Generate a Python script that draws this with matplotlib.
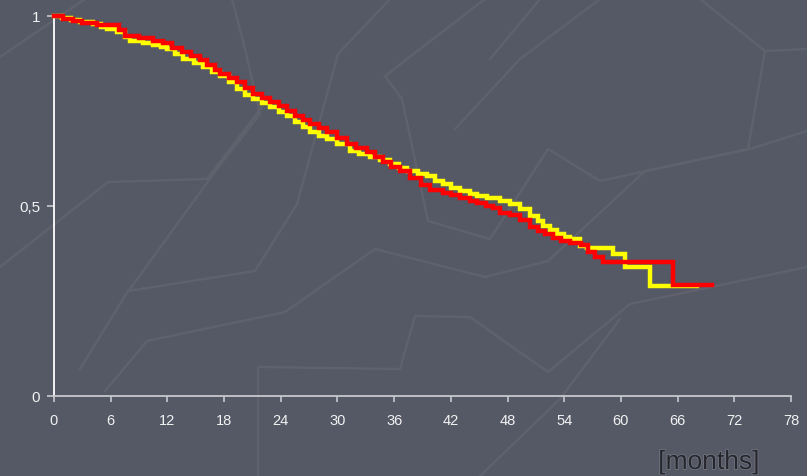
import matplotlib.pyplot as plt
from matplotlib.lines import Line2D
import matplotlib.patheffects as pe

# Kaplan-Meier style survival estimates (months, proportion surviving)
yellow_t = [0, 0.8, 1.8, 2.8, 4.1, 5.0, 5.6, 6.7, 7.5, 8.0, 9.4, 10.5, 11.3, 12.0, 12.8,
            13.7, 14.8, 15.8, 16.7, 17.6, 18.5, 19.4, 20.2, 21.1, 22.0, 22.9, 23.8, 24.7,
            25.5, 26.3, 27.1, 28.0, 28.9, 30.0, 31.3, 32.3, 33.4, 34.5, 35.6, 36.5, 37.4,
            38.5, 39.5, 40.3, 41.2, 42.0, 43.0, 44.0, 44.8, 45.8, 47.2, 48.3, 49.3, 50.4,
            51.2, 51.8, 52.5, 53.2, 54.0, 54.6, 55.7, 56.4, 59.2, 60.4, 63.1, 68.0]
yellow_s = [1.0, 0.995, 0.99, 0.985, 0.978, 0.97, 0.965, 0.957, 0.945, 0.935, 0.93, 0.925,
            0.918, 0.912, 0.9, 0.887, 0.877, 0.866, 0.853, 0.842, 0.826, 0.808, 0.793, 0.782,
            0.771, 0.761, 0.748, 0.737, 0.72, 0.707, 0.695, 0.685, 0.676, 0.662, 0.645, 0.637,
            0.629, 0.62, 0.611, 0.6, 0.592, 0.585, 0.579, 0.567, 0.558, 0.548, 0.539, 0.532,
            0.526, 0.52, 0.513, 0.505, 0.492, 0.474, 0.461, 0.447, 0.437, 0.426, 0.419, 0.413,
            0.395, 0.389, 0.374, 0.339, 0.289, 0.289]

red_t = [0, 1, 2, 3, 4.5, 6.9, 7.5, 9, 10.5, 11.5, 12.5, 13.5, 14.5, 15.5, 16.2, 17, 17.6,
         18.5, 19.4, 20.2, 21.1, 22, 22.9, 23.8, 24.7, 25.5, 26.3, 27.1, 28, 28.9, 30, 31, 32,
         33.1, 34, 34.8, 35.7, 36.6, 37.7, 38.8, 39.8, 41.2, 42, 43, 44, 44.8, 45.7, 46.5,
         47.2, 48.3, 49.3, 50.4, 51.2, 52, 52.8, 53.7, 54.6, 55.8, 56.5, 57.3, 58.1, 65.5, 69.6]
red_s = [1.0, 0.993, 0.987, 0.982, 0.977, 0.962, 0.948, 0.943, 0.935, 0.928, 0.915, 0.905,
         0.895, 0.884, 0.872, 0.858, 0.847, 0.837, 0.826, 0.81, 0.795, 0.785, 0.774, 0.762,
         0.75, 0.738, 0.727, 0.716, 0.705, 0.695, 0.679, 0.663, 0.653, 0.642, 0.628, 0.616,
         0.603, 0.592, 0.575, 0.556, 0.542, 0.534, 0.528, 0.521, 0.514, 0.508, 0.501, 0.494,
         0.482, 0.476, 0.464, 0.446, 0.435, 0.426, 0.417, 0.409, 0.403, 0.398, 0.38, 0.366,
         0.353, 0.292, 0.292]

x_ticks = list(range(0, 79, 6))
y_ticks = [0, 0.5, 1]
y_ticklabels = ['0', '0,5', '1']

BG = '#555865'

# faint decorative strokes of the slide background (figure pixels, y down)
deco = [
    [(0, 58), (85, 0)],
    [(0, 268), (108, 183), (207, 180), (262, 108)],
    [(232, 0), (245, 50), (260, 115), (217, 170), (130, 290)],
    [(80, 370), (128, 292), (255, 272), (297, 205), (338, 55), (390, 0)],
    [(105, 392), (147, 342), (285, 313), (375, 250), (485, 278), (548, 262), (645, 172),
     (750, 150), (807, 132)],
    [(258, 477), (258, 368), (400, 370), (415, 317), (470, 318), (548, 373), (630, 305),
     (807, 268)],
    [(385, 77), (485, 0)],
    [(385, 77), (402, 100), (428, 222), (490, 240), (548, 150), (600, 182), (748, 150),
     (765, 52), (807, 50)],
    [(455, 130), (520, 60), (600, 0)],
    [(490, 60), (540, 0)],
    [(700, 0), (765, 52)],
    [(480, 477), (560, 400), (620, 320)],
]

fig = plt.figure(figsize=(8.07, 4.77), dpi=100, facecolor=BG)
for pts in deco:
    xs = [p[0] / 807 for p in pts]
    ys = [1 - p[1] / 477 for p in pts]
    fig.add_artist(Line2D(xs, ys, color='#5f626c', lw=1.8, zorder=0))

ax = fig.add_axes([54 / 807, 1 - 397 / 477, 737 / 807, 380 / 477])
ax.set_facecolor('none')

ax.plot(yellow_t, yellow_s, drawstyle='steps-post', color='#ffff00', lw=3.2,
        clip_on=False, solid_joinstyle='miter', zorder=3)
ax.plot(red_t, red_s, drawstyle='steps-post', color='#ff0000', lw=3.2,
        clip_on=False, solid_joinstyle='miter', zorder=4)

ax.set_xlim(0, 78)
ax.set_ylim(0, 1)
ax.set_xticks(x_ticks)
ax.set_yticks(y_ticks)
ax.set_yticklabels(y_ticklabels)

for s in ['top', 'right']:
    ax.spines[s].set_visible(False)
ax.spines['left'].set_color('#ffffff')
ax.spines['left'].set_linewidth(1.3)
ax.spines['bottom'].set_color('#c8c8cc')
ax.spines['bottom'].set_linewidth(1.3)

ax.tick_params(axis='x', colors='#c8c8cc', labelcolor='#f2f2f2', length=4, width=1.2,
               pad=8, labelsize=10.5)
ax.tick_params(axis='y', colors='#c8c8cc', labelcolor='#f2f2f2', length=5, width=1.2,
               pad=5, labelsize=11)
for lab in ax.get_xticklabels() + ax.get_yticklabels():
    lab.set_fontfamily('Liberation Sans')

fig.text(709 / 807, 1 - 463 / 477, '[months]', ha='center', va='center', fontsize=19,
         color='#26272e', fontfamily='Liberation Sans',
         path_effects=[pe.withStroke(linewidth=1.0, foreground='#7a7c86')])

fig.savefig('out.png', dpi=100, facecolor=BG)
